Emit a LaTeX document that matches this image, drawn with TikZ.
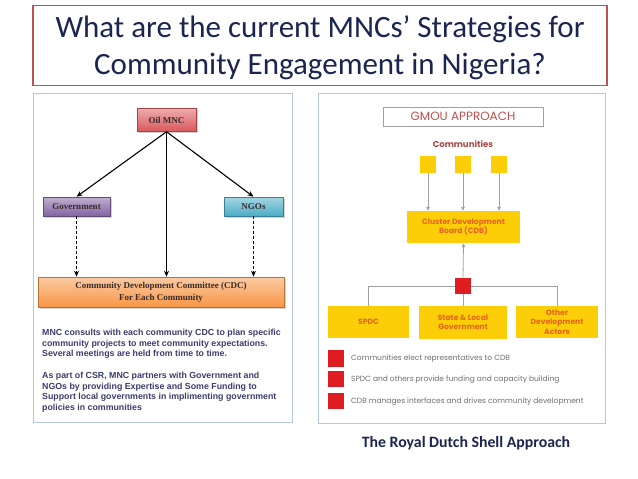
\documentclass[tikz,border=0pt]{standalone}
\usepackage{fontspec}
\setmainfont{Carlito}
\newfontfamily\serifb{Liberation Serif}
\newfontfamily\arialf{Liberation Sans}
\newfontfamily\geo{Poppins}
\usetikzlibrary{arrows.meta,shadows}
\definecolor{titleblue}{HTML}{1A2550}
\definecolor{titlered}{HTML}{C0504D}
\definecolor{panel}{HTML}{B4C7DC}
\definecolor{ltext}{HTML}{3A2A2A}
\definecolor{paratext}{HTML}{3C3C6E}
\definecolor{shyellow}{HTML}{FBCE07}
\definecolor{shorange}{HTML}{E8641B}
\definecolor{shred}{HTML}{DD1D21}
\definecolor{gline}{HTML}{A0A0A0}
\definecolor{legtext}{HTML}{707070}
\definecolor{mncred}{HTML}{D9585C}
\definecolor{govpurple}{HTML}{8064A2}
\definecolor{ngoteal}{HTML}{4BACC6}
\definecolor{cdcorange}{HTML}{F79646}
\begin{document}
\begin{tikzpicture}[x=1pt,y=-1pt,
  ttl/.style={anchor=base, inner sep=0pt, font=\fontsize{31}{37}\selectfont, text=titleblue},
  lbox/.style={draw=#1!75!black, line width=0.5pt, inner sep=0pt,
    top color=#1!50!white, bottom color=#1,
    font=\serifb\bfseries\fontsize{9}{12}\selectfont, text=ltext, align=center,
    drop shadow={shadow xshift=1.5pt, shadow yshift=-1.5pt, opacity=0.35}},
  larr/.style={-{Stealth[length=6pt,width=5pt]}, line width=1.1pt, black},
  ldash/.style={-{Stealth[length=6pt,width=5pt]}, line width=0.9pt, black, dash pattern=on 3pt off 2pt},
  para/.style={anchor=north west, inner sep=0pt, align=left, text=paratext, font=\arialf\bfseries\fontsize{8.8}{10.6}\selectfont},
  ybox/.style={fill=shyellow, inner sep=0pt, align=center,
    font=\geo\bfseries\fontsize{7.6}{9.3}\selectfont, text=shorange},
  rsq/.style={fill=shred, inner sep=0pt, minimum width=16pt, minimum height=16pt},
  garr/.style={-{Triangle[length=4pt,width=3.5pt]}, line width=0.8pt, gline},
  gl/.style={line width=0.8pt, gline},
  legt/.style={anchor=west, inner sep=0pt, font=\geo\fontsize{7.5}{9}\selectfont, text=legtext}
]
\useasboundingbox[fill=white] (0,0) rectangle (638,479);
% title
\node[draw=titlered, line width=1.2pt, minimum width=574pt, minimum height=80pt, inner sep=0pt] (tbox) at (320,45.5) {};
\node[ttl] (title1) at (320,37) {What are the current MNCs’ Strategies for};
\node[ttl] (title2) at (320,74) {Community Engagement in Nigeria?};
% left panel
\node[draw=panel, line width=1pt, minimum width=259pt, minimum height=329pt, inner sep=0pt] (lpanel) at (162.5,257.5) {};
\node[lbox=mncred, minimum width=59pt, minimum height=23pt] (mnc) at (166.5,120) {Oil MNC};
\node[lbox=govpurple, minimum width=67pt, minimum height=19pt] (gov) at (76.5,206.5) {Government};
\node[lbox=ngoteal, minimum width=59pt, minimum height=19pt] (ngo) at (253.5,206.5) {NGOs};
\node[lbox=cdcorange, minimum width=246pt, minimum height=30pt] (cdc) at (161,292) {Community Development Committee (CDC)\\For Each Community};
\draw[larr] (mnc.south) -- (gov.north);
\draw[larr] (mnc.south) -- (ngo.north);
\draw[larr] (mnc.south) -- (mnc.south |- cdc.north);
\draw[ldash] (gov.south) -- (gov.south |- cdc.north);
\draw[ldash] (ngo.south) -- (ngo.south |- cdc.north);
\node[para] (p1) at (42,329) {MNC consults with each community CDC to plan specific\\community projects to meet community expectations.\\Several meetings are held from time to time.};
\node[para] (p2) at (42,372) {As part of CSR, MNC partners with Government and\\NGOs by providing Expertise and Some Funding to\\Support local governments in implimenting government\\policies in communities};
% right panel
\node[draw=panel, line width=1pt, minimum width=287pt, minimum height=330pt, inner sep=0pt] (rpanel) at (461.5,258) {};
\node[draw=gline, line width=0.6pt, minimum width=160pt, minimum height=19pt, inner sep=0pt, font=\geo\fontsize{12}{13}\selectfont, text=titlered] (gmou) at (463,116.5) {GMOU APPROACH};
\node[font=\geo\bfseries\fontsize{8.6}{10}\selectfont, text=titlered!90!black] (comm) at (463,144) {Communities};
\node[fill=shyellow, minimum width=16pt, minimum height=17pt, inner sep=0pt] (c1) at (428,164.5) {};
\node[fill=shyellow, minimum width=16pt, minimum height=17pt, inner sep=0pt] (c2) at (463,164.5) {};
\node[fill=shyellow, minimum width=16pt, minimum height=17pt, inner sep=0pt] (c3) at (499,164.5) {};
\node[ybox, minimum width=113pt, minimum height=32pt] (cdb) at (463.5,227) {Cluster Development\\Board (CDB)};
\draw[garr] (c1.south) -- (c1.south |- cdb.north);
\draw[garr] (c2.south) -- (c2.south |- cdb.north);
\draw[garr] (c3.south) -- (c3.south |- cdb.north);
\node[rsq] (rs) at (463,286) {};
\node[ybox, minimum width=81pt, minimum height=32pt] (spdc) at (368.5,322) {SPDC};
\node[ybox, minimum width=88pt, minimum height=33pt] (state) at (463,322.5) {State \& Local\\Government};
\node[ybox, minimum width=82pt, minimum height=32pt] (other) at (557,322) {Other\\Development\\Actors};
\draw[garr] (rs.north) -- (cdb.south);
\draw[gl] (rs.west) -| (spdc.north);
\draw[gl] (rs.east) -| (other.north);
\draw[gl] (rs.south) -- (state.north);
\node[rsq, minimum height=17pt] (l1) at (336,358.5) {};
\node[rsq, minimum height=16pt] (l2) at (336,379) {};
\node[rsq, minimum height=16pt] (l3) at (336,401) {};
\node[legt] (t1) at (351,359) {Communities elect representatives to CDB};
\node[legt] (t2) at (351,380) {SPDC and others provide funding and capacity building};
\node[legt] (t3) at (351,402) {CDB manages interfaces and drives community development};
\node[font=\bfseries\fontsize{15.8}{18}\selectfont, text=titleblue] (shell) at (466,443) {The Royal Dutch Shell Approach};
\end{tikzpicture}
\end{document}
